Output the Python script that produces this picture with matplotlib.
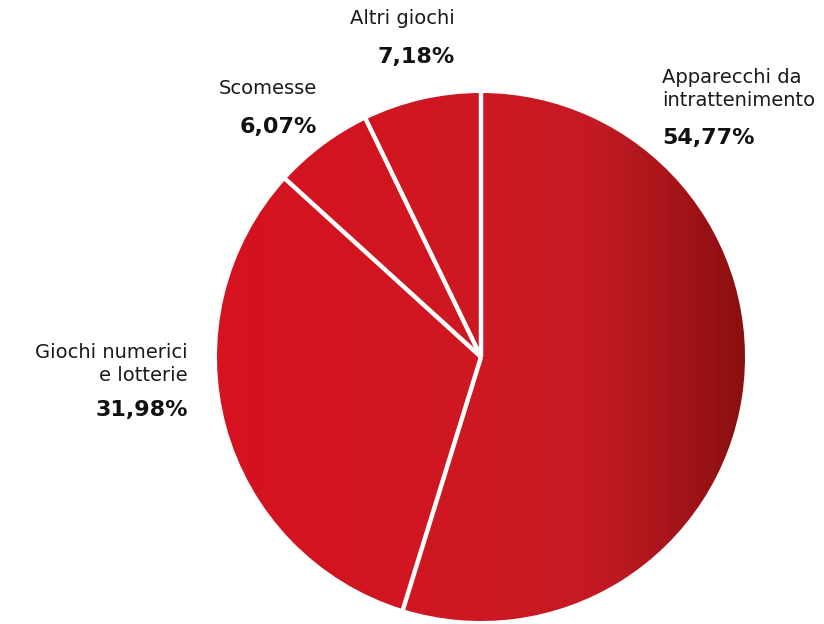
import numpy as np
import matplotlib.pyplot as plt
from matplotlib.colors import LinearSegmentedColormap

labels = ["Apparecchi da\nintrattenimento", "Giochi numerici\ne lotterie", "Scomesse", "Altri giochi"]
shares = [54.77, 31.98, 6.07, 7.18]
pct_text = ["54,77%", "31,98%", "6,07%", "7,18%"]

plt.rcParams['font.family'] = ['DejaVu Sans']

W, H = 824, 624
fig = plt.figure(figsize=(W / 100, H / 100), dpi=100)
ax = fig.add_axes([0, 0, 1, 1])

cx, cy, r = 481, H - 357, 264

# pie wedges, filled later with a horizontal gradient
wedges, _ = ax.pie(shares, center=(cx, cy), radius=r, startangle=90,
                   counterclock=False, frame=True,
                   wedgeprops=dict(facecolor='none', edgecolor='none'))
ax.set_xlim(0, W)
ax.set_ylim(0, H)
ax.set_aspect('equal')
ax.axis('off')

grad = LinearSegmentedColormap.from_list(
    'redgrad', [(0, '#d6121f'), (0.5, '#cd1822'), (0.72, '#c41a24'), (1.0, '#8a1010')])
img = np.linspace(0, 1, 256).reshape(1, -1)
for w in wedges:
    im = ax.imshow(img, cmap=grad, extent=(cx - r, cx + r, cy - r, cy + r),
                   aspect='auto', zorder=1)
    im.set_clip_path(w)

# white separators between slices
ang = 90.0
for s in shares:
    a = np.deg2rad(ang)
    ax.plot([cx, cx + (r + 2) * np.cos(a)], [cy, cy + (r + 2) * np.sin(a)],
            color='white', lw=3.2, solid_capstyle='butt', zorder=3)
    ang -= s * 3.6

txt = dict(color='#1a1a1a', fontsize=14)
big = dict(color='#111111', fontsize=16, fontweight='bold')

ax.text(662, H - 89, labels[0], ha='left', va='center', linespacing=1.25, **txt)
ax.text(662, H - 138, pct_text[0], ha='left', va='center', **big)

ax.text(188, H - 364, labels[1], ha='right', va='center', linespacing=1.25,
        multialignment='right', **txt)
ax.text(188, H - 410, pct_text[1], ha='right', va='center', **big)

ax.text(317, H - 89, labels[2], ha='right', va='center', **txt)
ax.text(317, H - 127, pct_text[2], ha='right', va='center', **big)

ax.text(455, H - 18, labels[3], ha='right', va='center', **txt)
ax.text(455, H - 57, pct_text[3], ha='right', va='center', **big)

fig.savefig('out.png', dpi=100, facecolor='white')
